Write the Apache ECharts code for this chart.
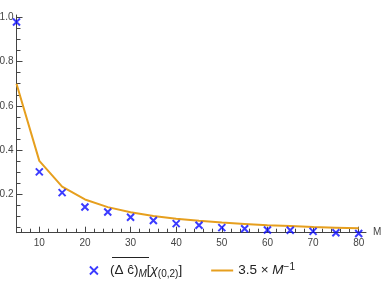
<!DOCTYPE html>
<html><head><meta charset="utf-8">
<script src="https://cdn.jsdelivr.net/npm/echarts@6/dist/echarts.min.js"></script>
<style>html,body{margin:0;padding:0;background:#fff}#c{width:384px;height:288px}</style>
</head><body><div id="c"></div>
<script>
const M = [5,10,15,20,25,30,35,40,45,50,55,60,65,70,75,80];
const dcValues = [0.98,0.30,0.206,0.141,0.118,0.094,0.079,0.065,0.058,0.047,0.042,0.036,0.035,0.030,0.024,0.020];
const fitValues = [0.70,0.35,0.233,0.175,0.14,0.117,0.10,0.0875,0.078,0.07,0.064,0.058,0.054,0.05,0.047,0.044];
const xMajor = [10,20,30,40,50,60,70,80];
const xMinor = [6,8,12,14,16,18,22,24,26,28,32,34,36,38,42,44,46,48,52,54,56,58,62,64,66,68,72,74,76,78];
const yMajor = [0.2,0.4,0.6,0.8,1.0];
const yMinor = [0.05,0.1,0.15,0.25,0.3,0.35,0.45,0.5,0.55,0.65,0.7,0.75,0.85,0.9,0.95];
const xMinVal = 5, xMaxVal = 81.6, yMinVal = 0.024, yMaxVal = 1.012;
const dcName = 'dc', fitName = 'fit';

const axisCol = '#444';
const font = 'Liberation Sans, Arial, sans-serif';
const blue = '#0a0aff';
const orange = '#e69f1e';
const gridPos = {left:16.5, top:15, width:349.5, height:217.7, containLabel:false, outerBoundsMode:'none'};
const chart = echarts.init(document.getElementById('c'), null, {renderer:'canvas'});

chart.setOption({
  animation:false,
  grid:[Object.assign({}, gridPos), Object.assign({}, gridPos)],
  xAxis:[
    {gridIndex:0, type:'value', min:xMinVal, max:xMaxVal, splitLine:{show:false},
      axisLine:{show:true, onZero:false, lineStyle:{color:axisCol,width:1}},
      name:'M', nameGap:7, nameTextStyle:{color:'#444', fontSize:10, fontFamily:font, verticalAlign:'middle'},
      axisTick:{show:true, inside:true, length:6, customValues:xMajor, lineStyle:{color:axisCol, width:1}},
      axisLabel:{show:true, customValues:xMajor, color:'#444', fontSize:10, fontFamily:font, margin:6}},
    {gridIndex:1, type:'value', min:xMinVal, max:xMaxVal, splitLine:{show:false},
      axisLine:{show:false, onZero:false},
      axisTick:{show:true, inside:true, length:4, customValues:xMinor, lineStyle:{color:axisCol, width:1}},
      axisLabel:{show:false, customValues:xMinor}}
  ],
  yAxis:[
    {gridIndex:0, type:'value', min:yMinVal, max:yMaxVal, splitLine:{show:false},
      axisLine:{show:true, onZero:false, lineStyle:{color:axisCol,width:1}},
      axisTick:{show:true, inside:true, length:6, customValues:yMajor, lineStyle:{color:axisCol, width:1}},
      axisLabel:{show:true, customValues:yMajor, color:'#444', fontSize:10, fontFamily:font, margin:3, formatter:v=>v.toFixed(1)}},
    {gridIndex:1, type:'value', min:yMinVal, max:yMaxVal, splitLine:{show:false},
      axisLine:{show:false, onZero:false},
      axisTick:{show:true, inside:true, length:4, customValues:yMinor, lineStyle:{color:axisCol, width:1}},
      axisLabel:{show:false, customValues:yMinor}}
  ],
  legend:{
    left:84, top:257, itemGap:29, itemWidth:22, itemHeight:8,
    data:[{name:dcName, icon:'path://M6,0L14,8M14,0L6,8', itemStyle:{color:'transparent', borderColor:blue, borderWidth:1.8}},
          {name:fitName, icon:'path://M0,0L0,0M0,3L22,3L22,5L0,5ZM22,8L22,8', itemStyle:{color:orange, borderWidth:0}}],
    textStyle:{fontFamily:font, fontSize:13, color:'#222',
      rich:{
        n:{fontSize:13.5, fontFamily:font, color:'#222'},
        s:{fontSize:10, fontFamily:font, fontStyle:'italic', color:'#222', padding:[8,0,0,0]},
        s2:{fontSize:10, fontFamily:font, color:'#222', padding:[8,0,0,0]},
        i:{fontSize:13.5, fontFamily:font, fontStyle:'italic', color:'#222'},
        sup:{fontSize:10, fontFamily:font, color:'#222', padding:[0,0,7,0]}
      }},
    formatter:function(name){
      if(name===dcName) return '{n|(Δ ĉ)}{s|M}{n|[}{i|χ}{s2|(0,2)}{n|]}';
      return '{n|3.5 × }{i|M}{sup|−1}';
    }
  },
  graphic:[{type:'line', shape:{x1:112, y1:257.5, x2:149, y2:257.5}, style:{stroke:'#222', lineWidth:1}}],
  series:[
    {name:fitName, type:'line', xAxisIndex:0, yAxisIndex:0, data:M.map((m,i)=>[m,fitValues[i]]),
      showSymbol:false, symbol:'none', lineStyle:{color:orange, width:2}, itemStyle:{color:orange}, z:2},
    {name:dcName, type:'scatter', xAxisIndex:0, yAxisIndex:0, data:M.map((m,i)=>[m,dcValues[i]]),
      symbol:'path://M0,0L10,10M10,0L0,10', symbolSize:7, clip:false,
      itemStyle:{color:'transparent', borderColor:blue, borderWidth:2}, z:3}
  ]
});
</script></body></html>
